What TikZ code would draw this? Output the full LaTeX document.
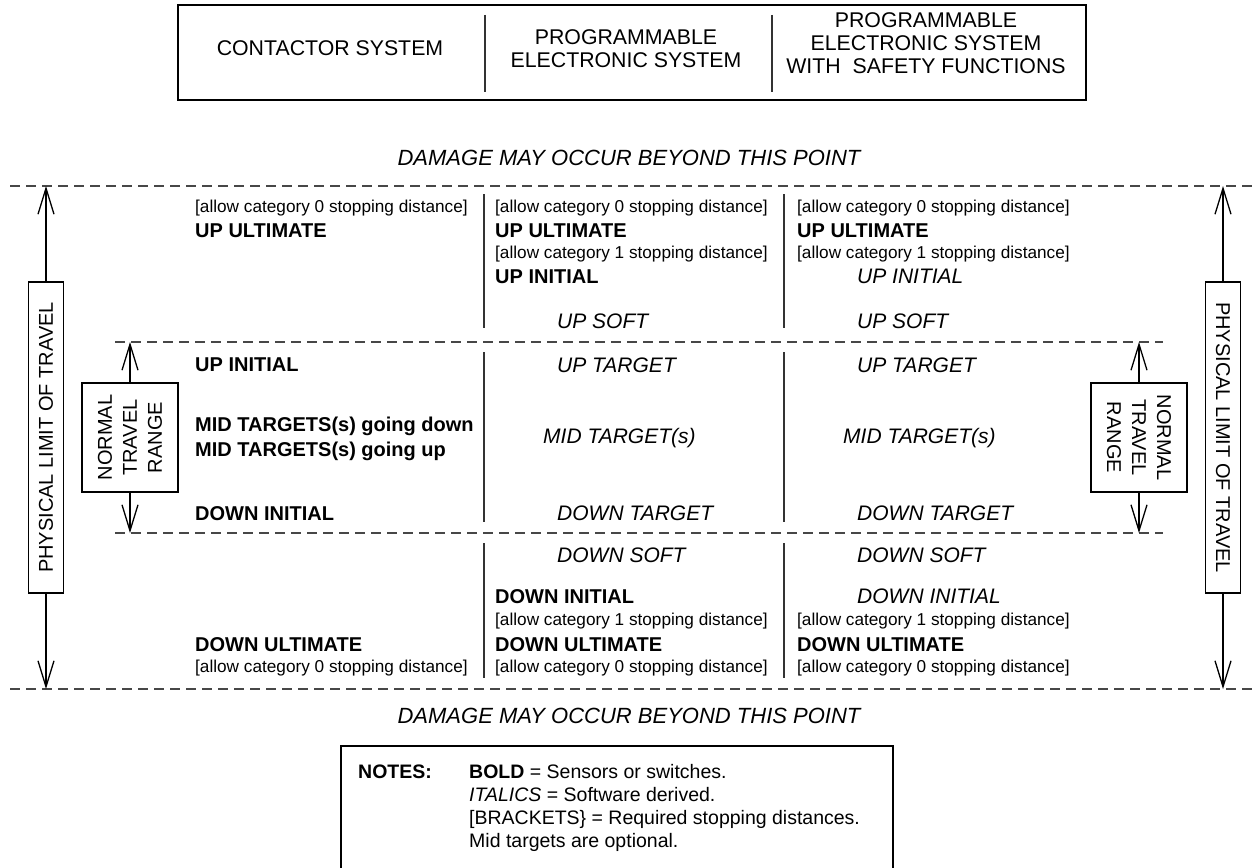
\documentclass[tikz,border=0pt]{standalone}
\usepackage{fontspec}
\setmainfont{Liberation Sans}
\usetikzlibrary{arrows.meta}
\begin{document}
\begin{tikzpicture}[x=1pt,y=-1pt,
  bx/.style={draw=black,line width=1.4pt},
  dline/.style={draw=black!72,line width=2pt,dash pattern=on 10pt off 6pt},
  divl/.style={draw=black!80,line width=1.6pt},
  dim/.style={draw=black,line width=1.3pt,-{Straight Barb[length=26pt,width=16pt]}},
  bt/.style={font=\fontsize{20}{24}\selectfont\bfseries,anchor=base west,inner sep=0pt},
  it/.style={font=\fontsize{21}{24}\selectfont\itshape,anchor=base west,inner sep=0pt},
  sm/.style={font=\fontsize{17.2}{20}\selectfont,anchor=base west,inner sep=0pt},
  hd/.style={font=\fontsize{21.3}{23}\selectfont,align=center,inner sep=0pt},
  dmg/.style={font=\fontsize{22}{24}\selectfont\itshape,inner sep=0pt},
  vbox/.style={draw=black,line width=1.3pt,inner sep=0pt,align=center,font=\fontsize{20}{25}\selectfont},
  nt/.style={font=\fontsize{19.5}{23}\selectfont,anchor=base west,inner sep=0pt},
]
\useasboundingbox (0,0) rectangle (1257,867);
\clip (0,0) rectangle (1257,867);
\fill[white] (0,0) rectangle (1257,867);

% header
\draw[bx] (178,5) rectangle (1086,100);
\draw[divl] (485,15) -- (485,92);
\draw[divl] (772,15) -- (772,92);
\node[hd] (h1) at (330,48) {CONTACTOR SYSTEM};
\node[hd] (h2) at (626,49) {PROGRAMMABLE\\ELECTRONIC SYSTEM};
\node[hd] (h3) at (926,43) {PROGRAMMABLE\\ELECTRONIC SYSTEM\\WITH\ \ SAFETY FUNCTIONS};

% damage labels
\node[dmg] (dmgtop) at (629,158) {DAMAGE MAY OCCUR BEYOND THIS POINT};
\node[dmg] (dmgbot) at (629,716) {DAMAGE MAY OCCUR BEYOND THIS POINT};

% dashed lines
\draw[dline] (10,186) -- (1257,186);
\draw[dline] (10,689) -- (1257,689);
\draw[dline] (115,342) -- (1163,342);
\draw[dline] (115,533) -- (1163,533);

% column dividers
\foreach \xx in {484,784}{
  \draw[divl] (\xx,194) -- (\xx,328);
  \draw[divl] (\xx,352) -- (\xx,522);
  \draw[divl] (\xx,543) -- (\xx,678);
}

% side dimension boxes
\node[vbox,rotate=90,minimum width=311pt,minimum height=35pt] (physL) at (46,437.5) {PHYSICAL LIMIT OF TRAVEL};
\node[vbox,rotate=-90,minimum width=311pt,minimum height=35pt] (physR) at (1223,437.5) {PHYSICAL LIMIT OF TRAVEL};
\node[vbox,rotate=90,minimum width=109pt,minimum height=96pt] (normL) at (130,437.5) {NORMAL\\TRAVEL\\RANGE};
\node[vbox,rotate=-90,minimum width=109pt,minimum height=96pt] (normR) at (1139,437.5) {NORMAL\\TRAVEL\\RANGE};
\coordinate (physLt) at (46,186);
\coordinate (physLb) at (46,689);
\coordinate (physRt) at (1223,186);
\coordinate (physRb) at (1223,689);
\coordinate (normLt) at (130,342);
\coordinate (normLb) at (130,533);
\coordinate (normRt) at (1139,342);
\coordinate (normRb) at (1139,533);
\draw[dim] (physL) -- (physLt);
\draw[dim] (physL) -- (physLb);
\draw[dim] (physR) -- (physRt);
\draw[dim] (physR) -- (physRb);
\draw[dim] (normL) -- (normLt);
\draw[dim] (normL) -- (normLb);
\draw[dim] (normR) -- (normRt);
\draw[dim] (normR) -- (normRb);

% column 1
\node[sm] (a1) at (195,212) {[allow category 0 stopping distance]};
\node[bt] (a2) at (195,237) {UP ULTIMATE};
\node[bt] (a3) at (195,371) {UP INITIAL};
\node[bt] (a4) at (195,431) {MID TARGETS(s) going down};
\node[bt] (a5) at (195,456) {MID TARGETS(s) going up};
\node[bt] (a6) at (195,520) {DOWN INITIAL};
\node[bt] (a7) at (195,651) {DOWN ULTIMATE};
\node[sm] (a8) at (195,672) {[allow category 0 stopping distance]};

% column 2
\node[sm] (b1) at (495,212) {[allow category 0 stopping distance]};
\node[bt] (b2) at (495,237) {UP ULTIMATE};
\node[sm] (b3) at (495,258) {[allow category 1 stopping distance]};
\node[bt] (b4) at (495,283) {UP INITIAL};
\node[it] (b5) at (557,328) {UP SOFT};
\node[it] (b6) at (557,372) {UP TARGET};
\node[it] (b7) at (543,443) {MID TARGET(s)};
\node[it] (b8) at (557,520) {DOWN TARGET};
\node[it] (b9) at (557,562) {DOWN SOFT};
\node[bt] (b10) at (495,603) {DOWN INITIAL};
\node[sm] (b11) at (495,625) {[allow category 1 stopping distance]};
\node[bt] (b12) at (495,651) {DOWN ULTIMATE};
\node[sm] (b13) at (495,672) {[allow category 0 stopping distance]};

% column 3
\node[sm] (c1) at (797,212) {[allow category 0 stopping distance]};
\node[bt] (c2) at (797,237) {UP ULTIMATE};
\node[sm] (c3) at (797,258) {[allow category 1 stopping distance]};
\node[it] (c4) at (857,283) {UP INITIAL};
\node[it] (c5) at (857,328) {UP SOFT};
\node[it] (c6) at (857,372) {UP TARGET};
\node[it] (c7) at (843,443) {MID TARGET(s)};
\node[it] (c8) at (857,520) {DOWN TARGET};
\node[it] (c9) at (857,562) {DOWN SOFT};
\node[it] (c10) at (857,603) {DOWN INITIAL};
\node[sm] (c11) at (797,625) {[allow category 1 stopping distance]};
\node[bt] (c12) at (797,651) {DOWN ULTIMATE};
\node[sm] (c13) at (797,672) {[allow category 0 stopping distance]};

% notes
\draw[bx] (341,880) -- (341,746) -- (893,746) -- (893,880);
\node[nt,font=\fontsize{19.5}{23}\selectfont\bfseries] (n0) at (358,778) {NOTES:};
\node[nt] (n1) at (469,778) {\textbf{BOLD} = Sensors or switches.};
\node[nt] (n2) at (469,801) {\textit{ITALICS} = Software derived.};
\node[nt] (n3) at (469,824) {[BRACKETS\} = Required stopping distances.};
\node[nt] (n4) at (469,847) {Mid targets are optional.};
\end{tikzpicture}
\end{document}
